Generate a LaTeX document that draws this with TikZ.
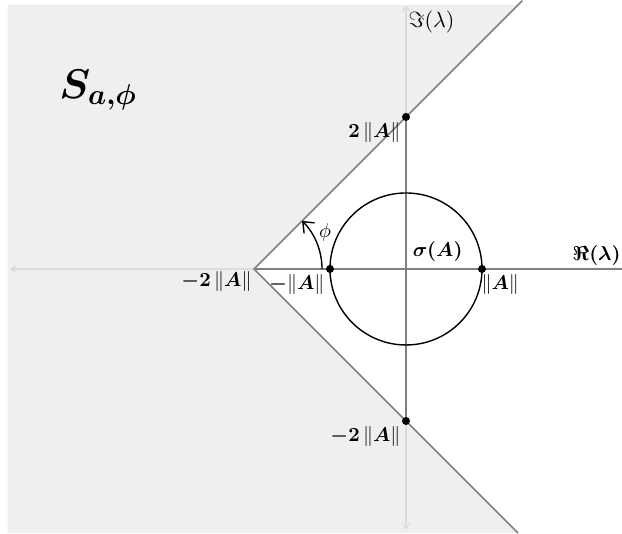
\documentclass[tikz,border=0pt]{standalone}
\usepackage{amsmath}
\usepackage{tikz}
\usetikzlibrary{arrows.meta, positioning}

\begin{document}
\begin{tikzpicture}[
    x=38pt, y=38pt,
    axis/.style={gray, line width=0.6pt},
    tip/.style={-{Straight Barb[length=0.9mm, width=1.3mm]}},
    region/.style={fill=gray!15, fill opacity=0.85},
    edge/.style={gray, line width=0.8pt},
    dot/.style={circle, fill=black, inner sep=0pt, minimum size=4pt},
    lbl/.style={inner sep=1pt, font=\normalsize}
]
    \useasboundingbox (-5.342,-3.474) rectangle (2.842,3.539);

    \coordinate (vtx) at (-2,0);
    \coordinate (xl) at (-5.21,0);
    \coordinate (xr) at (2.842,0);
    \coordinate (yt) at (0,3.47);
    \coordinate (yb) at (0,-3.43);

    % axes
    \draw[axis, tip] (xr) -- (xl);
    \draw[axis, tip] (0,0) -- (yt);
    \draw[axis, tip] (0,0) -- (yb);

    % sector
    \fill[region] (-5.24,3.474) -- (1.474,3.474) -- (vtx) -- (1.474,-3.474)
        -- (-5.24,-3.474) -- cycle;
    \draw[edge] (1.53,3.53) -- (vtx) -- (1.474,-3.474);

    \draw[line width=0.7pt] (0,0) circle (1);
    \draw[line width=0.7pt, -{Straight Barb[length=1.6mm, width=2.6mm]}]
        (-1.105,0) arc[start angle=0, end angle=45, radius=0.895];

    \node[dot] (pm) at (-1,0) {};
    \node[dot] (pp) at (1,0) {};
    \node[dot] (p2) at (0,2) {};
    \node[dot] (m2) at (0,-2) {};

    \node[lbl, below left=0pt of vtx] (lv) {$\boldsymbol{-2}\,\|\boldsymbol{A}\|$};
    \node[lbl, below left=0pt of pm] (lm) {$\boldsymbol{-}\|\boldsymbol{A}\|$};
    \node[lbl, below right=0pt and -3pt of pp] (lp) {$\|\boldsymbol{A}\|$};
    \node[lbl, below left=0pt of p2] (l2) {$\boldsymbol{2}\,\|\boldsymbol{A}\|$};
    \node[lbl, below left=0pt of m2] (lm2) {$\boldsymbol{-2}\,\|\boldsymbol{A}\|$};
    \node[lbl, above left=1pt and 7pt of pp] (sig) {$\boldsymbol{\sigma(A)}$};
    \node[lbl] (phi) at (-1.066,0.474) {$\phi$};
    \node[lbl, inner sep=0.5pt, above left=1pt and 0pt of xr] (re) {$\boldsymbol{\Re(\lambda)}$};
    \node[lbl, scale=1.1, below right=1.5pt and 0pt of yt] (im) {$\Im(\lambda)$};
    \node[font=\huge] (S) at (-4.05,2.355) {$\boldsymbol{S_{a,\phi}}$};
\end{tikzpicture}
\end{document}
